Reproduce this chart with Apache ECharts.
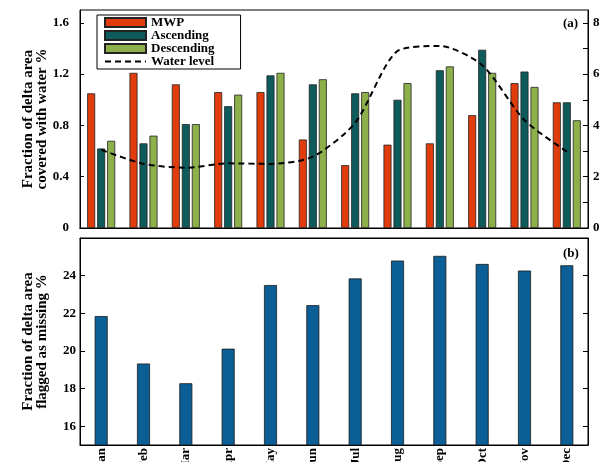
<!DOCTYPE html>
<html>
<head>
<meta charset="utf-8">
<script src="https://cdn.jsdelivr.net/npm/echarts@6/dist/echarts.min.js"></script>
<style>
  html, body { margin: 0; padding: 0; background: #fff; }
  #chart { width: 602px; height: 462px; }
</style>
</head>
<body>
<div id="chart"></div>
<script>
// months
const months = ["Jan", "Feb", "Mar", "Apr", "May", "Jun", "Jul", "Aug", "Sep", "Oct", "Nov", "Dec"];

// panel (a): fraction of delta area covered with water (%)
const mwp = [1.05, 1.21, 1.12, 1.06, 1.06, 0.69, 0.49, 0.65, 0.66, 0.88, 1.13, 0.98];
const ascending = [0.62, 0.66, 0.81, 0.95, 1.19, 1.12, 1.05, 1.0, 1.23, 1.39, 1.22, 0.98];
const descending = [0.68, 0.72, 0.81, 1.04, 1.21, 1.16, 1.06, 1.13, 1.26, 1.21, 1.10, 0.84];
// water level (right axis)
const waterLevel = [3.05, 2.5, 2.35, 2.52, 2.5, 2.78, 4.1, 6.9, 7.1, 6.35, 4.2, 2.98];

// panel (b): fraction of delta area flagged as missing (%)
const missing = [21.85, 19.33, 18.28, 20.12, 23.5, 22.43, 23.85, 24.8, 25.05, 24.62, 24.27, 24.55];

// tick values
const leftTicksA = [0, 0.4, 0.8, 1.2, 1.6];
const rightLabelsA = [0, 2, 4, 6, 8];
const rightTicksA = [0, 1, 2, 3, 4, 5, 6, 7, 8];
const ticksB = [16, 18, 20, 22, 24];

const FONT = "Liberation Serif";
const labelStyle = { fontFamily: FONT, fontWeight: "bold", fontSize: 13, color: "#000" };
const nameStyle = { fontFamily: FONT, fontWeight: "bold", fontSize: 15, color: "#000", lineHeight: 14 };

const chart = echarts.init(document.getElementById("chart"), null, { renderer: "canvas" });

const barBorder = { borderColor: "#222", borderWidth: 0.8 };

chart.setOption({
  animation: false,
  grid: [
    { left: 80, right: 14, top: 10, height: 218, show: true, borderColor: "#000", borderWidth: 1, outerBoundsMode: "none" },
    { left: 80, right: 14, top: 238, height: 207, show: true, borderColor: "#000", borderWidth: 1, outerBoundsMode: "none" },
  ],
  legend: {
    left: 97,
    top: 15,
    orient: "vertical",
    itemWidth: 41,
    itemHeight: 9,
    itemGap: 0,
    itemTextGap: 8,
    padding: [1, 26, 1, 7],
    borderColor: "#000",
    borderWidth: 1,
    backgroundColor: "#fff",
    selectedMode: false,
    textStyle: { fontFamily: FONT, fontWeight: "bold", fontSize: 13, color: "#000" },
    data: [
      { name: "MWP", icon: "rect" },
      { name: "Ascending", icon: "rect" },
      { name: "Descending", icon: "rect" },
      { name: "Water level", itemStyle: { opacity: 0 } },
    ],
  },
  xAxis: [
    {
      gridIndex: 0, type: "category", data: months, position: "bottom",
      axisLine: { lineStyle: { color: "#000" } },
      axisTick: { show: false }, axisLabel: { show: false },
    },
    {
      gridIndex: 0, type: "category", data: months, position: "top",
      axisLine: { lineStyle: { color: "#000" } },
      axisTick: { inside: true, length: 5, alignWithLabel: true, lineStyle: { color: "#000" } },
      axisLabel: { show: false },
    },
    {
      gridIndex: 1, type: "category", data: months, position: "bottom",
      axisLine: { lineStyle: { color: "#000" } },
      axisTick: { show: false },
      axisLabel: Object.assign({ rotate: 90, margin: 3, interval: 0 }, labelStyle),
    },
    {
      gridIndex: 1, type: "category", data: months, position: "top",
      axisLine: { lineStyle: { color: "#000" } },
      axisTick: { inside: true, length: 5, alignWithLabel: true, lineStyle: { color: "#000" } },
      axisLabel: { show: false },
    },
  ],
  yAxis: [
    {
      gridIndex: 0, type: "value", min: 0, max: 1.7, position: "left",
      name: "Fraction of delta area\ncovered with water %",
      nameLocation: "middle", nameGap: 31, nameMoveOverlap: false, nameTextStyle: nameStyle,
      axisLine: { show: true, lineStyle: { color: "#000" } },
      axisTick: { show: true, inside: true, length: 4, customValues: leftTicksA, lineStyle: { color: "#000" } },
      axisLabel: Object.assign({ margin: 11, customValues: leftTicksA }, labelStyle),
      splitLine: { show: false },
    },
    {
      gridIndex: 0, type: "value", min: 0, max: 8.5, position: "right",
      axisLine: { show: true, lineStyle: { color: "#000" } },
      axisTick: { show: true, inside: true, length: 5, customValues: rightTicksA, lineStyle: { color: "#000" } },
      axisLabel: Object.assign({ margin: 5, customValues: rightLabelsA }, labelStyle),
      splitLine: { show: false },
    },
    {
      gridIndex: 1, type: "value", min: 15, max: 26, position: "left",
      name: "Fraction of delta area\nflagged as missing %",
      nameLocation: "middle", nameGap: 31, nameMoveOverlap: false, nameTextStyle: nameStyle,
      axisLine: { show: true, lineStyle: { color: "#000" } },
      axisTick: { show: true, inside: true, length: 5, customValues: ticksB, lineStyle: { color: "#000" } },
      axisLabel: Object.assign({ margin: 4, customValues: ticksB }, labelStyle),
      splitLine: { show: false },
    },
    {
      gridIndex: 1, type: "value", min: 15, max: 26, position: "right",
      axisLine: { show: true, lineStyle: { color: "#000" } },
      axisTick: { show: true, inside: true, length: 5, customValues: ticksB, lineStyle: { color: "#000" } },
      axisLabel: { show: false },
      splitLine: { show: false },
    },
  ],
  graphic: [
    { type: "text", left: 563, top: 17, style: { text: "(a)", font: "bold 13px " + FONT, fill: "#000" } },
    { type: "text", left: 563, top: 247, style: { text: "(b)", font: "bold 13px " + FONT, fill: "#000" } },
  ],
  series: [
    {
      name: "MWP", type: "bar", xAxisIndex: 0, yAxisIndex: 0, data: mwp,
      barWidth: 8, barGap: "25%",
      itemStyle: Object.assign({ color: "#E03C0C" }, barBorder),
    },
    {
      name: "Ascending", type: "bar", xAxisIndex: 0, yAxisIndex: 0, data: ascending,
      barWidth: 8, barGap: "25%",
      itemStyle: Object.assign({ color: "#0E5B5C" }, barBorder),
    },
    {
      name: "Descending", type: "bar", xAxisIndex: 0, yAxisIndex: 0, data: descending,
      barWidth: 8, barGap: "25%",
      itemStyle: Object.assign({ color: "#8DB04B" }, barBorder),
    },
    {
      name: "Water level", type: "line", xAxisIndex: 0, yAxisIndex: 1, data: waterLevel,
      symbol: "none", smooth: 0.25, z: 5,
      lineStyle: { color: "#000", width: 2, type: [6, 4] },
      itemStyle: { color: "#000" },
    },
    {
      name: "Missing", type: "bar", xAxisIndex: 2, yAxisIndex: 2, data: missing,
      barWidth: 13,
      itemStyle: { color: "#0B5E96", borderColor: "#1a1a1a", borderWidth: 0.8 },
    },
  ],
});
</script>
</body>
</html>
